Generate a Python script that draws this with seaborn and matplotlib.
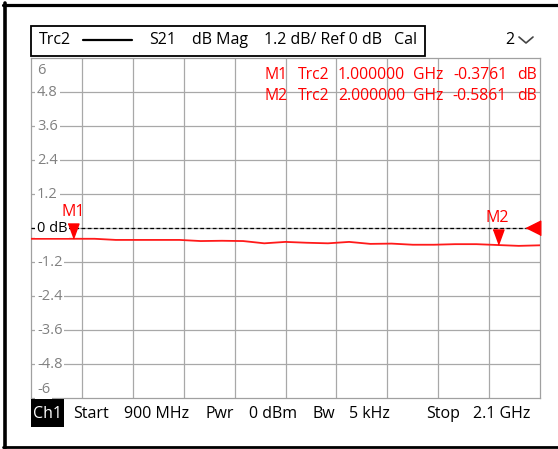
import numpy as np
import pandas as pd
import matplotlib
matplotlib.use("Agg")
import matplotlib.pyplot as plt
import seaborn as sns
from matplotlib import transforms
from matplotlib.lines import Line2D
from matplotlib.patches import Rectangle

# ---------------- data ----------------
freq_mhz = [900, 950, 1000, 1050, 1100, 1150, 1200, 1250, 1300, 1350, 1400, 1450, 1500,
            1550, 1600, 1650, 1700, 1750, 1800, 1850, 1900, 1950, 2000, 2050, 2100]
s21_db = [-0.37, -0.37, -0.37, -0.37, -0.41, -0.41, -0.41, -0.41, -0.45, -0.44, -0.45, -0.53, -0.48,
          -0.51, -0.53, -0.48, -0.55, -0.54, -0.58, -0.58, -0.56, -0.56, -0.59, -0.62, -0.60]

marker_names = ["M1", "M2"]
marker_freq_mhz = [1000, 2000]
marker_db = [-0.3761, -0.5861]
marker_freq_text = ["1.000000", "2.000000"]
marker_db_text = ["-0.3761", "-0.5861"]

start_mhz, stop_mhz = 900, 2100
ref_level_db = 0
y_ticks = [6, 4.8, 3.6, 2.4, 1.2, 0, -1.2, -2.4, -3.6, -4.8, -6]
y_tick_labels = ["6", "4.8", "3.6", "2.4", "1.2", "0 dB", "-1.2", "-2.4", "-3.6", "-4.8", "-6"]
x_grid_mhz = [1020, 1140, 1260, 1380, 1500, 1620, 1740, 1860, 1980]

header_texts = ["Trc2", "S21", "dB Mag", "1.2 dB/ Ref 0 dB", "Cal"]
footer_texts = ["Start", "900 MHz", "Pwr", "0 dBm", "Bw", "5 kHz", "Stop", "2.1 GHz"]

# ---------------- figure ----------------
W, H = 558, 449
sns.set_style("white")
plt.rcParams["font.family"] = ["Open Sans", "DejaVu Sans"]

fig = plt.figure(figsize=(W / 100, H / 100), dpi=100)

def fx(x):
    return x / W

def fy(y):
    return 1 - y / H

ax_l, ax_r, ax_t, ax_b = 31, 540, 58.3, 398.3
ax = fig.add_axes([fx(ax_l), fy(ax_b), (ax_r - ax_l) / W, (ax_b - ax_t) / H])

df = pd.DataFrame({"freq": freq_mhz, "db": s21_db})
sns.lineplot(data=df, x="freq", y="db", color="#ff1a1a", lw=1.3, ax=ax, zorder=4)

ax.set_xlim(start_mhz, stop_mhz)
ax.set_ylim(min(y_ticks), max(y_ticks))
ax.set_xticks(x_grid_mhz)
ax.set_yticks([t for t in y_ticks if abs(t) < 6])
ax.tick_params(length=0, labelbottom=False, labelleft=False)
ax.grid(True, color="#a8a8a8", lw=0.9)
ax.set_xlabel("")
ax.set_ylabel("")
for s in ax.spines.values():
    s.set_color("#a0a0a0")
    s.set_linewidth(0.9)

# reference dashed line
ax.axhline(ref_level_db, color="black", lw=0.9, ls=(0, (3, 2)), zorder=3)

# y labels inside the plot
blend = transforms.blended_transform_factory(fig.transFigure, ax.transData)
for val, lab in zip(y_ticks, y_tick_labels):
    dy = 0
    if val == max(y_ticks):
        dy = -11.7
    elif val == min(y_ticks):
        dy = 9
    tr = transforms.offset_copy(blend, fig=fig, x=0, y=dy, units="dots")
    col = "black" if lab.endswith("dB") else "#808080"
    ax.text(fx(37), val, lab, transform=tr, ha="left", va="center", fontsize=10.5,
            color=col, zorder=5,
            bbox=dict(boxstyle="square,pad=0.12", fc="white", ec="none"))

# markers (triangles pointing down, tip on trace)
tri = [(-0.73, 1), (0.73, 1), (0, -1)]
mtr = transforms.offset_copy(ax.transData, fig=fig, x=0, y=7.5, units="dots")
ax.plot(marker_freq_mhz, marker_db, ls="none", marker=tri, ms=10.8, color="red",
        mec="red", transform=mtr, zorder=6, clip_on=False)
for name, f, d in zip(marker_names, marker_freq_mhz, marker_db):
    ax.annotate(name, (f, d), xytext=(0, 19.2), textcoords="offset points",
                ha="center", va="center", fontsize=11.5, color="red", zorder=6)

# reference level triangle at right edge
rtr = transforms.offset_copy(ax.transData, fig=fig, x=-7, y=0, units="dots")
ax.plot([stop_mhz], [ref_level_db], ls="none", marker=[(-1, 0), (1, 1), (1, -1)],
        ms=10.5, color="red", mec="red", transform=rtr, zorder=6, clip_on=False)

# marker readout
row_y = [75, 96]
for i, name in enumerate(marker_names):
    y = fy(row_y[i])
    kw = dict(transform=fig.transFigure, va="center", fontsize=11.3, color="red")
    fig.text(fx(265), y, name, ha="left", **kw)
    fig.text(fx(298), y, "Trc2", ha="left", **kw)
    fig.text(fx(338), y, marker_freq_text[i], ha="left", **kw)
    fig.text(fx(413), y, "GHz", ha="left", **kw)
    fig.text(fx(507), y, marker_db_text[i], ha="right", **kw)
    fig.text(fx(517), y, "dB", ha="left", **kw)

# header box
fig.patches.append(Rectangle((fx(31), fy(56)), (425 - 31) / W, (56 - 25.6) / H,
                             transform=fig.transFigure, fill=False, ec="black", lw=1.3))
header_x = [39, 149.5, 192, 264, 394]
for t, x in zip(header_texts, header_x):
    fig.text(fx(x), fy(40.5), t, ha="left", va="center", fontsize=11.5, color="black")
fig.lines.append(Line2D([fx(83), fx(132)], [fy(40), fy(40)], transform=fig.transFigure,
                        color="black", lw=1.6))
fig.text(fx(505), fy(40), "2", ha="left", va="center", fontsize=11.5, color="black")
fig.lines.append(Line2D([fx(519), fx(526), fx(533)], [fy(37), fy(43), fy(37)],
                        transform=fig.transFigure, color="#444444", lw=1.2))

# footer
fig.patches.append(Rectangle((fx(31), fy(427)), 33 / W, 28 / H, transform=fig.transFigure,
                             fc="black", ec="none"))
fig.text(fx(47.5), fy(414.5), "Ch1", ha="center", va="center", fontsize=11.5, color="white")
footer_x = [72.7, 124, 205.7, 249, 313, 349, 426, 473]
for t, x in zip(footer_texts, footer_x):
    fig.text(fx(x), fy(414.5), t, ha="left", va="center", fontsize=11.5, color="black")

# outer frame
fig.lines.append(Line2D([fx(3), fx(560)], [fy(4.5), fy(4.5)], transform=fig.transFigure,
                        color="black", lw=2.3))
fig.lines.append(Line2D([fx(5), fx(5)], [fy(3), fy(448)], transform=fig.transFigure,
                        color="black", lw=2.6))
fig.lines.append(Line2D([fx(3), fx(560)], [fy(447), fy(447)], transform=fig.transFigure,
                        color="black", lw=2.0))

fig.savefig("out.png", dpi=100, facecolor="white")
